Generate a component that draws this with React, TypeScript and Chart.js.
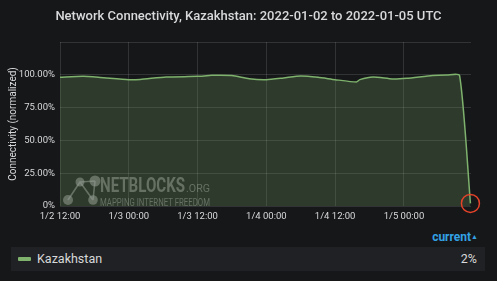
import React, { useEffect, useRef } from "react";
import { Chart, registerables } from "chart.js";

Chart.register(...registerables);

// Hours since 2022-01-02 12:00 UTC
const hours = [0, 4, 7, 12, 14, 18.5, 24, 26.5, 30, 33, 36, 39, 42, 45, 48, 51.7, 52.3, 54.6, 58, 60.5, 65, 67.5, 69.7, 71.6];
const connectivity = [98.1, 98.8, 98.0, 96.3, 96.5, 98.3, 98.8, 99.6, 99.4, 97.0, 96.3, 97.6, 99.1, 98.1, 96.3, 94.5, 96.3, 98.3, 96.8, 97.3, 99.4, 99.8, 99.6, 2];
const xTickLabels = ["1/2 12:00", "1/3 00:00", "1/3 12:00", "1/4 00:00", "1/4 12:00", "1/5 00:00"];
const yTickValues = [0, 25, 50, 75, 100];
const seriesName = "Kazakhstan";
const currentValue = "2%";
const title = "Network Connectivity, Kazakhstan: 2022-01-02 to 2022-01-05 UTC";

const BG = "#161719";
const GREEN = "#7eb26d";
const TEXT = "#d8d9da";

function fitText(ctx: any, text: string, x: number, y: number, w: number, font: string) {
  ctx.save();
  ctx.font = font;
  const m = ctx.measureText(text).width;
  ctx.translate(x, y);
  ctx.scale(w / m, 1);
  ctx.fillText(text, 0, 0);
  ctx.restore();
}

const watermark = {
  id: "watermark",
  afterDatasetsDraw(chart: any) {
    const ctx = chart.ctx;
    const a = chart.chartArea;
    const ox = a.left;
    const oy = a.bottom;
    ctx.save();
    const col = "rgba(150,158,148,0.55)";
    ctx.fillStyle = col;
    ctx.strokeStyle = col;
    ctx.lineWidth = 1.6;
    const pts = [
      [ox + 20, oy - 24, 4.5],
      [ox + 35, oy - 25, 5.5],
      [ox + 8, oy - 6, 5],
      [ox + 33, oy - 6, 4.8],
    ];
    ctx.beginPath();
    ctx.moveTo(pts[2][0], pts[2][1]);
    ctx.lineTo(pts[0][0], pts[0][1]);
    ctx.lineTo(pts[3][0], pts[3][1]);
    ctx.moveTo(pts[0][0], pts[0][1]);
    ctx.lineTo(pts[1][0], pts[1][1]);
    ctx.moveTo(pts[1][0], pts[1][1]);
    ctx.lineTo(pts[3][0], pts[3][1]);
    ctx.stroke();
    for (const p of pts) {
      ctx.beginPath();
      ctx.arc(p[0], p[1], p[2], 0, Math.PI * 2);
      ctx.fill();
    }
    ctx.textBaseline = "alphabetic";
    ctx.textAlign = "left";
    fitText(ctx, "NETBLOCKS", ox + 40, oy - 14, 85, "bold 20px Roboto, sans-serif");
    fitText(ctx, ".ORG", ox + 126, oy - 14, 24, "11.5px Roboto, sans-serif");
    fitText(ctx, "MAPPING INTERNET FREEDOM", ox + 40, oy - 0.5, 110, "10px Roboto, sans-serif");
    ctx.restore();
  },
};

function ConnectivityChart() {
  const ref = useRef<HTMLCanvasElement | null>(null);
  useEffect(() => {
    if (!ref.current) return;
    const n = connectivity.length;
    const chart = new Chart(ref.current, {
      type: "line",
      data: {
        datasets: [
          {
            label: seriesName,
            data: hours.map((h, i) => ({ x: h, y: connectivity[i] })),
            borderColor: GREEN,
            borderWidth: 1.5,
            backgroundColor: "rgba(126,178,109,0.23)",
            fill: "origin",
            tension: 0.2,
            clip: false,
            pointRadius: connectivity.map((_, i) => (i === n - 1 ? 9 : 0)),
            pointBorderColor: "#e5432a",
            pointBackgroundColor: "rgba(0,0,0,0)",
            pointBorderWidth: 1.5,
          },
        ],
      },
      options: {
        animation: false,
        responsive: false,
        maintainAspectRatio: false,
        layout: { padding: { top: 42, right: 26, left: 0, bottom: 0 } },
        plugins: { legend: { display: false }, tooltip: { enabled: false } },
        scales: {
          x: {
            type: "linear",
            min: 0,
            max: 71.7,
            afterFit: (s: any) => {
              s.height = 19;
            },
            afterBuildTicks: (s: any) => {
              s.ticks = xTickLabels.map((_, i) => ({ value: i * 12 }));
            },
            grid: { color: "rgba(255,255,255,0.12)", drawTicks: false },
            border: { display: false },
            ticks: {
              color: TEXT,
              padding: 5,
              maxRotation: 0,
              autoSkip: false,
              font: { family: "Roboto", size: 9.5 },
              callback: (v: any) => {
                const i = Math.round(Number(v) / 12);
                return xTickLabels[i] ?? "";
              },
            },
          },
          y: {
            min: 0,
            max: 125,
            afterFit: (s: any) => {
              s.width = 60;
            },
            afterBuildTicks: (s: any) => {
              s.ticks = [...yTickValues, 125].map((v) => ({ value: v }));
            },
            grid: { color: "rgba(255,255,255,0.12)", drawTicks: false },
            border: { display: false },
            title: {
              display: true,
              text: "Connectivity (normalized)",
              color: TEXT,
              font: { family: "Roboto", size: 10 },
              padding: { top: 7, bottom: 0 },
            },
            ticks: {
              color: TEXT,
              padding: 5,
              font: { family: "Roboto", size: 9.5 },
              callback: (v: any) => {
                const n2 = Number(v);
                if (!yTickValues.includes(n2)) return "";
                return n2 === 0 ? "0%" : n2.toFixed(2) + "%";
              },
            },
          },
        },
      },
      plugins: [watermark],
    } as any);
    return () => chart.destroy();
  }, []);
  return <canvas ref={ref} width={497} height={225} style={{ display: "block", width: 497, height: 225 }} />;
}

export default function App() {
  return (
    <div
      style={{
        position: "fixed",
        left: 0,
        top: 0,
        width: 497,
        height: 281,
        background: BG,
        fontFamily: "Roboto, sans-serif",
        overflow: "hidden",
      }}
    >
      <div style={{ position: "absolute", left: 0, top: 0 }}>
        <ConnectivityChart />
      </div>
      <div
        style={{
          position: "absolute",
          left: 0,
          top: 7,
          width: 497,
          textAlign: "center",
          color: TEXT,
          fontSize: 13,
          fontWeight: 500,
          lineHeight: "18px",
        }}
      >
        {title}
      </div>
      <div
        style={{
          position: "absolute",
          right: 19,
          top: 229,
          color: "#33a2e5",
          fontSize: 12,
          fontWeight: 700,
          lineHeight: "16px",
        }}
      >
        current<span style={{ fontSize: 7, verticalAlign: "2px" }}>▲</span>
      </div>
      <div
        style={{
          position: "absolute",
          left: 11,
          top: 247,
          width: 474,
          height: 24,
          background: "#202124",
        }}
      >
        <div style={{ position: "absolute", left: 7, top: 10, width: 13, height: 4, background: GREEN, borderRadius: 1 }} />
        <div style={{ position: "absolute", left: 26, top: 4, color: TEXT, fontSize: 12.5, lineHeight: "16px" }}>{seriesName}</div>
        <div style={{ position: "absolute", right: 8, top: 4, color: TEXT, fontSize: 12.5, lineHeight: "16px" }}>{currentValue}</div>
      </div>
    </div>
  );
}
